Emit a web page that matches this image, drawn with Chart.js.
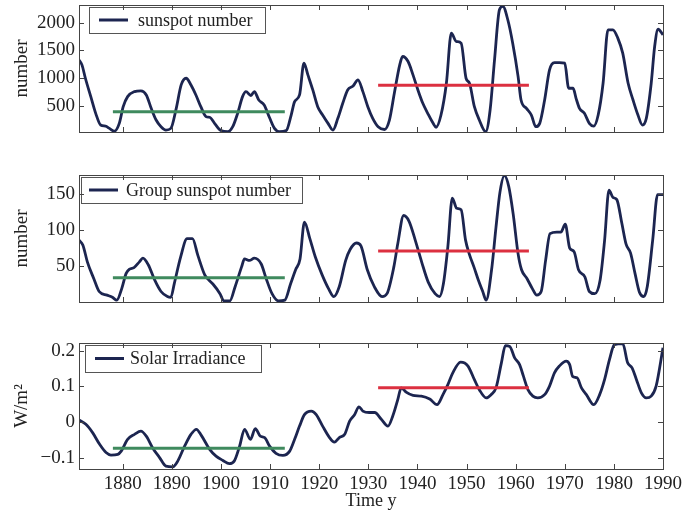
<!DOCTYPE html>
<html>
<head>
<meta charset="utf-8">
<script src="https://cdn.jsdelivr.net/npm/chart.js@4.4.1/dist/chart.umd.min.js"></script>
<style>
html, body {margin: 0; padding: 0; background: #fff;}
#wrap {position: relative; width: 683px; height: 512px; overflow: hidden;}
.panel {position: absolute; left: 0;}
</style>
</head>
<body>
<div id="wrap">
    <div class="panel" style="top:0"><canvas id="c1" width="683" height="140"></canvas></div>
    <div class="panel" style="top:168px"><canvas id="c2" width="683" height="140"></canvas></div>
    <div class="panel" style="top:336px"><canvas id="c3" width="683" height="176"></canvas></div>
</div>
<script>
// x axis
const yearTicks = [1880, 1890, 1900, 1910, 1920, 1930, 1940, 1950, 1960, 1970, 1980, 1990];
const greenSpan = [1878, 1913];
const redSpan = [1932, 1962.7];

// sunspot number
const sunspotYears = [1871.1,1871.7,1872.4,1873.5,1874.5,1875.5,1876.5,1877.3,1878.3,1879.3,
    1880.1,1881.0,1882.4,1883.7,1884.8,1885.8,1886.8,1887.8,1888.8,1889.8,
    1890.9,1891.9,1892.9,1893.9,1894.9,1895.9,1897.0,1897.7,1898.7,1900.0,
    1901.4,1902.4,1903.4,1904.4,1905.1,1906.1,1906.8,1907.7,1908.8,1909.9,
    1910.9,1911.9,1913.3,1914.3,1915.0,1916.0,1916.9,1917.7,1918.7,1919.7,
    1920.7,1921.8,1922.8,1923.8,1924.8,1925.8,1926.9,1927.9,1928.9,1929.9,
    1930.9,1932.0,1933.3,1934.3,1935.3,1936.4,1937.0,1938.1,1939.1,1940.1,
    1941.1,1942.1,1943.2,1943.8,1944.8,1945.9,1946.9,1947.9,1948.9,1949.9,
    1950.6,1951.6,1952.6,1953.9,1954.8,1955.7,1956.7,1957.4,1958.4,1959.4,
    1960.5,1961.1,1962.2,1963.2,1964.1,1964.9,1965.9,1966.9,1967.9,1968.9,
    1970.0,1970.8,1971.7,1972.3,1973.0,1974.0,1975.0,1975.9,1976.8,1977.8,
    1978.8,1979.8,1980.8,1981.8,1982.9,1983.9,1984.9,1985.8,1986.6,1987.6,
    1988.3,1989.0,1990.0];
const sunspotValues = [1330,1240,1000,670,370,160,140,100,50,190,
    490,670,760,775,700,460,250,130,70,100,
    460,880,1000,880,700,490,310,300,190,60,
    40,130,370,670,760,690,760,610,520,290,
    100,40,60,340,580,700,1270,1060,790,490,
    340,190,70,280,550,790,860,970,760,490,
    280,130,80,250,730,1240,1390,1300,1060,790,
    550,370,190,120,340,910,1810,1660,1630,1000,
    910,490,250,40,430,1330,2230,2290,2050,1630,
    1030,610,460,340,130,190,610,1150,1280,1280,
    1270,820,820,640,460,370,190,140,340,910,
    1870,1870,1720,1450,910,610,340,160,280,910,
    1570,1880,1780];
const sunspotMeans = [398, 876];
const sunspotTicks = [500, 1000, 1500, 2000];

// group sunspot number
const groupYears = [1871.1,1871.9,1872.8,1874.1,1875.2,1876.8,1877.9,1878.8,1879.8,1880.7,
    1881.4,1882.3,1883.4,1884.1,1885.2,1886.5,1887.8,1889.1,1889.8,1890.5,
    1891.8,1893.1,1894.2,1895.3,1896.7,1897.5,1898.4,1899.8,1900.6,1901.8,
    1902.9,1904.2,1904.8,1905.8,1906.8,1908.2,1909.2,1910.4,1911.7,1913.0,
    1914.2,1915.2,1916.1,1917.0,1918.1,1919.2,1920.6,1921.9,1923.0,1924.1,
    1925.4,1926.3,1927.6,1928.5,1929.8,1931.2,1932.8,1933.8,1935.2,1936.0,
    1937.2,1938.3,1939.6,1940.9,1942.2,1943.6,1944.5,1945.3,1946.2,1947.1,
    1948.0,1948.9,1949.8,1950.6,1951.5,1952.4,1953.3,1954.0,1955.1,1956.0,
    1956.8,1957.7,1958.6,1959.5,1960.5,1961.2,1962.3,1963.4,1964.3,1965.2,
    1966.1,1967.0,1968.4,1969.2,1970.1,1971.0,1971.9,1972.8,1974.1,1975.0,
    1976.1,1977.2,1978.1,1979.0,1979.8,1980.6,1981.6,1982.5,1983.4,1984.3,
    1985.2,1986.1,1986.8,1987.9,1988.9,1990.0];
const groupValues = [86,79,56,33,15,10,7,3,19,40,
    46,48,56,61,52,31,15,8,7,26,
    63,88,88,65,38,31,25,12,2,2,
    22,49,60,58,61,53,33,12,2,3,
    26,45,60,111,88,63,38,19,8,22,
    58,73,82,78,45,22,8,12,49,81,
    120,112,85,55,28,12,8,26,77,144,
    130,128,86,66,49,31,15,3,45,104,
    152,175,160,122,67,45,33,19,10,15,
    58,95,97,97,108,75,70,45,35,15,
    12,31,85,155,145,142,110,80,68,40,
    14,8,22,86,149,149];
const groupMeans = [34, 71];
const groupTicks = [50, 100, 150];

// solar irradiance, W/m2
const tsiYears = [1871.1,1872.5,1873.9,1875.3,1876.6,1877.6,1879.0,1879.7,1881.0,1882.4,
    1883.7,1884.8,1886.1,1887.5,1888.8,1890.2,1891.2,1892.6,1893.9,1895.0,
    1896.0,1897.7,1899.0,1900.4,1901.7,1902.7,1903.8,1904.8,1906.0,1907.0,
    1908.0,1908.9,1909.9,1911.2,1912.6,1914.0,1915.0,1916.0,1917.0,1918.4,
    1919.4,1920.7,1922.1,1923.1,1924.1,1925.2,1926.2,1927.2,1928.1,1928.9,
    1930.2,1931.3,1932.6,1934.0,1935.0,1936.0,1936.7,1937.7,1939.1,1940.8,
    1942.5,1944.0,1945.2,1946.2,1947.2,1948.8,1950.3,1951.6,1952.6,1954.0,
    1955.0,1956.0,1957.1,1957.9,1958.8,1959.8,1960.8,1961.6,1962.5,1963.5,
    1964.5,1965.9,1966.9,1967.9,1968.9,1970.3,1971.0,1971.6,1972.5,1973.4,
    1974.4,1975.9,1977.1,1978.1,1979.1,1980.1,1981.8,1982.8,1983.7,1984.6,
    1985.6,1986.6,1987.6,1988.6,1990.0];
const tsiValues = [0.006,-0.006,-0.030,-0.062,-0.085,-0.092,-0.090,-0.081,-0.048,-0.034,
    -0.025,-0.039,-0.072,-0.099,-0.123,-0.125,-0.109,-0.067,-0.034,-0.020,
    -0.037,-0.076,-0.095,-0.107,-0.116,-0.109,-0.067,-0.020,-0.048,-0.018,
    -0.039,-0.043,-0.067,-0.087,-0.093,-0.081,-0.048,-0.011,0.021,0.031,
    0.021,-0.011,-0.043,-0.056,-0.043,-0.034,0.003,0.021,0.043,0.031,
    0.027,0.027,0.009,-0.011,0.018,0.063,0.096,0.084,0.075,0.073,
    0.065,0.049,0.077,0.105,0.138,0.168,0.157,0.119,0.091,0.068,
    0.077,0.096,0.166,0.214,0.212,0.180,0.161,0.128,0.091,0.073,
    0.068,0.077,0.101,0.138,0.157,0.171,0.161,0.128,0.124,0.096,
    0.077,0.049,0.077,0.119,0.175,0.217,0.220,0.166,0.152,0.119,
    0.082,0.068,0.073,0.101,0.208];
const tsiMeans = [-0.073, 0.096];
const tsiTicks = [-0.1, 0, 0.1, 0.2];

const navy = '#1c2550',
      green = '#3f8a5e',
      red = '#dc3040',
      serif = '"Liberation Serif", "Times New Roman", serif';

Chart.defaults.font.family = serif;
Chart.defaults.font.size = 19;
Chart.defaults.color = '#222';

function toPoints(xs, ys) {
    return xs.map((x, i) => ({x: x, y: ys[i]}));
}

// legend box inside the plot, box frame and inward ticks
const panelDeco = {
    id: 'panelDeco',
    afterDatasetsDraw(chart, args, opts) {
        const {ctx, chartArea: a, scales} = chart,
              lg = opts.legend,
              ds = chart.data.datasets[0];
        ctx.save();

        const bx = a.left + lg.dx, by = a.top + lg.dy, cy = by + lg.h / 2;
        ctx.fillStyle = '#fff';
        ctx.fillRect(bx, by, lg.w, lg.h);
        ctx.strokeStyle = '#555';
        ctx.lineWidth = 1;
        ctx.strokeRect(bx + 0.5, by + 0.5, lg.w, lg.h);
        ctx.strokeStyle = ds.borderColor;
        ctx.lineWidth = 3;
        ctx.beginPath();
        ctx.moveTo(bx + lg.lineX, cy);
        ctx.lineTo(bx + lg.lineX + 29, cy);
        ctx.stroke();
        ctx.fillStyle = '#222';
        ctx.font = '18px ' + serif;
        ctx.textBaseline = 'middle';
        ctx.fillText(ds.label, bx + lg.textX, cy + 1);

        ctx.strokeStyle = '#444';
        ctx.lineWidth = 1;
        ctx.strokeRect(Math.round(a.left) + 0.5, Math.round(a.top) + 0.5,
                       Math.round(a.right - a.left), Math.round(a.bottom - a.top));
        ctx.beginPath();
        opts.xTicks.forEach(v => {
            const px = Math.round(scales.x.getPixelForValue(v)) + 0.5;
            ctx.moveTo(px, a.bottom); ctx.lineTo(px, a.bottom - 5);
            ctx.moveTo(px, a.top); ctx.lineTo(px, a.top + 5);
        });
        opts.yTicks.forEach(v => {
            const py = Math.round(scales.y.getPixelForValue(v)) + 0.5;
            ctx.moveTo(a.left, py); ctx.lineTo(a.left + 5, py);
            ctx.moveTo(a.right, py); ctx.lineTo(a.right - 5, py);
        });
        ctx.stroke();
        ctx.restore();
    }
};

function makePanel(id, cfg) {
    return new Chart(document.getElementById(id), {
        type: 'line',
        data: {
            datasets: [
                {label: cfg.label, data: toPoints(cfg.years, cfg.values), borderColor: navy,
                 borderWidth: 2.8, pointRadius: 0, cubicInterpolationMode: 'monotone', order: 3},
                {label: 'green', data: toPoints(greenSpan, [cfg.means[0], cfg.means[0]]), borderColor: green,
                 borderWidth: 3, pointRadius: 0, order: 1},
                {label: 'red', data: toPoints(redSpan, [cfg.means[1], cfg.means[1]]), borderColor: red,
                 borderWidth: 3, pointRadius: 0, order: 1}
            ]
        },
        options: {
            responsive: false,
            animation: false,
            events: [],
            layout: {padding: {top: cfg.padTop, right: 20, left: 0, bottom: 0}},
            plugins: {
                legend: {display: false},
                tooltip: {enabled: false},
                panelDeco: {legend: cfg.legend, xTicks: yearTicks, yTicks: cfg.yTicks}
            },
            scales: {
                x: {
                    type: 'linear', min: 1871.1, max: 1990,
                    grid: {display: false, drawTicks: false},
                    border: {display: false},
                    ticks: {display: cfg.showX, padding: 4, maxRotation: 0, autoSkip: false,
                            callback: v => String(v)},
                    title: {display: cfg.showX, text: 'Time y', padding: 0, font: {size: 18}},
                    afterBuildTicks: s => { s.ticks = yearTicks.map(v => ({value: v})); },
                    afterFit: s => {
                        s.height = cfg.xHeight;
                        s.paddingLeft = 0; s.paddingRight = 0;
                    }
                },
                y: {
                    min: cfg.min, max: cfg.max,
                    grid: {display: false, drawTicks: false},
                    border: {display: false},
                    ticks: {padding: 4, callback: v => String(v).replace('-', '\u2212')},
                    title: {display: true, text: cfg.yTitle, padding: {top: 11, bottom: 0}},
                    afterBuildTicks: s => { s.ticks = cfg.yTicks.map(v => ({value: v})); },
                    afterFit: s => {
                        s.width = 79;
                        s.paddingTop = 0; s.paddingBottom = 0;
                    }
                }
            }
        },
        plugins: [panelDeco]
    });
}

makePanel('c1', {
    label: 'sunspot number', years: sunspotYears, values: sunspotValues, means: sunspotMeans,
    yTicks: sunspotTicks, min: 35, max: 2315, yTitle: 'number',
    padTop: 5, xHeight: 8, showX: false,
    legend: {dx: 10, dy: 2, w: 176, h: 26, lineX: 10, textX: 49}
});
makePanel('c2', {
    label: 'Group sunspot number', years: groupYears, values: groupValues, means: groupMeans,
    yTicks: groupTicks, min: 0.5, max: 176, yTitle: 'number',
    padTop: 7, xHeight: 6, showX: false,
    legend: {dx: 2, dy: 2, w: 221, h: 26, lineX: 8, textX: 45}
});
makePanel('c3', {
    label: 'Solar Irradiance', years: tsiYears, values: tsiValues, means: tsiMeans,
    yTicks: tsiTicks, min: -0.131, max: 0.2215, yTitle: 'W/m\u00b2',
    padTop: 7, xHeight: 43, showX: true,
    legend: {dx: 6, dy: 2, w: 176, h: 27, lineX: 10, textX: 45}
});
</script>
</body>
</html>
